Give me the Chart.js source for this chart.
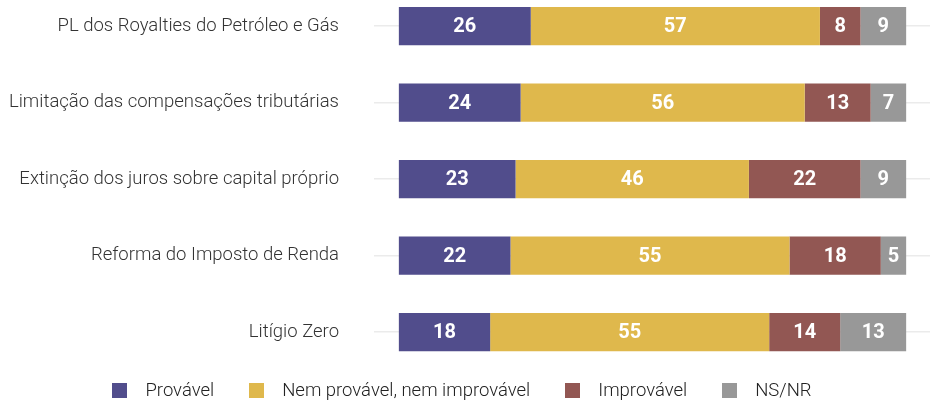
<!DOCTYPE html>
<html>
<head>
<meta charset="utf-8">
<script src="https://cdn.jsdelivr.net/npm/chart.js@4/dist/chart.umd.min.js"></script>
<style>
  html, body { margin: 0; padding: 0; background: #fff; }
  #wrap { position: relative; width: 930px; height: 401px; }
  #legend { position: absolute; left: -3px; top: 380px; width: 930px; height: 20px;
    display: flex; justify-content: center; align-items: center;
    font-family: Roboto, sans-serif; font-weight: 300; font-size: 18.5px; color: #222; }
  .item { display: flex; align-items: center; margin: 0 17.5px; }
  .box { width: 15px; height: 15px; margin-right: 18px; }
</style>
</head>
<body>
<div id="wrap">
  <canvas id="c" width="930" height="401"></canvas>
  <div id="legend"></div>
</div>
<script>
const categories = [
  "PL dos Royalties do Petróleo e Gás",
  "Limitação das compensações tributárias",
  "Extinção dos juros sobre capital próprio",
  "Reforma do Imposto de Renda",
  "Litígio Zero"
];
const seriesNames = ["Provável", "Nem provável, nem improvável", "Improvável", "NS/NR"];
const provavel = [26, 24, 23, 22, 18];
const nem = [57, 56, 46, 55, 55];
const improvavel = [8, 13, 22, 18, 14];
const nsnr = [9, 7, 9, 5, 13];
const colors = ["#514D8C", "#DFB84C", "#925753", "#989898"];

const values = [provavel, nem, improvavel, nsnr];

const labelPlugin = {
  id: 'segLabels',
  afterDatasetsDraw(chart) {
    const ctx = chart.ctx;
    ctx.save();
    ctx.font = 'bold 20px Roboto, sans-serif';
    ctx.fillStyle = '#fff';
    ctx.textAlign = 'center';
    ctx.textBaseline = 'middle';
    chart.data.datasets.forEach((ds, di) => {
      const meta = chart.getDatasetMeta(di);
      meta.data.forEach((el, i) => {
        const p = el.getCenterPoint();
        ctx.fillText(String(ds.data[i]), p.x, p.y + 1);
      });
    });
    ctx.restore();
  }
};

new Chart(document.getElementById('c'), {
  type: 'bar',
  data: {
    labels: categories,
    datasets: values.map((v, i) => ({
      label: seriesNames[i],
      data: v,
      backgroundColor: colors[i],
      borderWidth: 0,
      barPercentage: 0.5,
      categoryPercentage: 1,
      clip: false
    }))
  },
  options: {
    indexAxis: 'y',
    responsive: false,
    animation: false,
    layout: { padding: { top: 26, bottom: 69, left: 0, right: 0 } },
    plugins: { legend: { display: false }, tooltip: { enabled: false } },
    scales: {
      x: { stacked: true, display: false, min: -4.9, max: 104.7 },
      y: {
        stacked: true,
        offset: false,
        afterFit(s) { s.width = 374; s.paddingTop = 0; s.paddingBottom = 0; },
        border: { display: false },
        grid: { offset: false, color: '#ebebeb', lineWidth: 1.5, drawTicks: false },
        ticks: { padding: 35, color: '#333', font: { family: 'Roboto', size: 18.5, weight: 300 } }
      }
    }
  },
  plugins: [labelPlugin]
});

const leg = document.getElementById('legend');
seriesNames.forEach((n, i) => {
  const it = document.createElement('div');
  it.className = 'item';
  const b = document.createElement('div');
  b.className = 'box';
  b.style.background = colors[i];
  const t = document.createElement('span');
  t.textContent = n;
  it.appendChild(b); it.appendChild(t);
  leg.appendChild(it);
});
</script>
</body>
</html>
